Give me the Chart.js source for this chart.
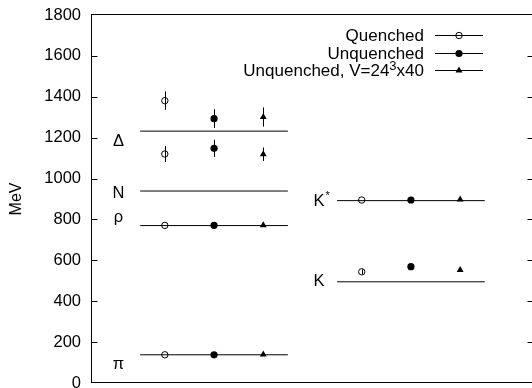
<!DOCTYPE html>
<html>
<head>
<meta charset="utf-8">
<script src="https://cdn.jsdelivr.net/npm/chart.js@4.4.1/dist/chart.umd.min.js"></script>
<style>
html, body { margin: 0; padding: 0; background: #fff; }
canvas { display: block; }
</style>
</head>
<body>
<canvas id="massChart" width="532" height="388"></canvas>
<script>
// hadrons, experimental masses (MeV) and where each block sits on the x axis
const hadrons = ['π', 'ρ', 'N', 'Δ', 'K', 'K*'];
const expMass = [138, 770, 939, 1232, 495, 892];
const block = [0, 0, 0, 0, 1, 1];
const blockStart = [1, 5];
const blockEnd = [4, 8];
const slot = [0.5, 1.5, 2.5];            // x offset of each series inside a block
const labelX = [0.56, 0.56, 0.56, 0.56, 4.63, 4.63];
const labelMeV = [70, 787, 905, 1160, 474, 866];   // label baselines

// lattice results
const quenched = [138, 771, 1120, 1381, 544, 895];
const quenchedErr = [0, 0, 39, 45, 12, 0];
const unquenched = [138, 771, 1148, 1293, 569, 895];
const unquenchedErr = [0, 0, 42, 46, 0, 0];
const unq24 = [139, 772, 1119, 1301, 553, 897];
const unq24Err = [0, 0, 33, 47, 0, 0];

const yTicks = [0, 200, 400, 600, 800, 1000, 1200, 1400, 1600, 1800];

const FONT = '"Liberation Sans", Arial, Helvetica, sans-serif';

const seriesList = [
    { name: 'Quenched', vals: quenched, errs: quenchedErr, style: 'circle', open: true },
    { name: 'Unquenched', vals: unquenched, errs: unquenchedErr, style: 'circle', open: false },
    { name: 'Unquenched, V=24^3x40', vals: unq24, errs: unq24Err, style: 'triangle', open: false }
];

const datasets = [];
hadrons.forEach((h, i) => {
    const b = block[i];
    datasets.push({
        type: 'line',
        data: [{ x: blockStart[b], y: expMass[i] }, { x: blockEnd[b], y: expMass[i] }],
        borderColor: '#000',
        borderWidth: 1,
        pointRadius: 0,
        fill: false
    });
});
seriesList.forEach((s, k) => {
    datasets.push({
        type: 'scatter',
        isSeries: true,
        errs: s.errs,
        data: s.vals.map((v, i) => ({ x: blockStart[block[i]] + slot[k], y: v })),
        pointStyle: s.style,
        pointRadius: s.style === 'triangle' ? 4 : (s.open ? 3.2 : 3.6),
        borderWidth: s.open ? 1 : 0,
        borderColor: '#000',
        backgroundColor: s.open ? 'rgba(0,0,0,0)' : '#000'
    });
});

const errorBars = {
    id: 'errorBars',
    afterDatasetsDraw(chart) {
        const ctx = chart.ctx, ys = chart.scales.y;
        ctx.save();
        ctx.strokeStyle = '#000';
        ctx.lineWidth = 1;
        chart.data.datasets.forEach((ds, di) => {
            if (!ds.isSeries) return;
            const meta = chart.getDatasetMeta(di);
            meta.data.forEach((pt, i) => {
                const e = ds.errs[i];
                if (!e) return;
                const v = ds.data[i].y;
                const x = Math.round(pt.x) + 0.5;
                ctx.beginPath();
                ctx.moveTo(x, ys.getPixelForValue(v + e));
                ctx.lineTo(x, ys.getPixelForValue(v - e));
                ctx.stroke();
            });
        });
        ctx.restore();
    }
};

function marker(ctx, s, x, y) {
    ctx.beginPath();
    if (s.style === 'triangle') {
        const r = 4;
        ctx.moveTo(x, y - r);
        ctx.lineTo(x + r * 0.866, y + r / 2);
        ctx.lineTo(x - r * 0.866, y + r / 2);
        ctx.closePath();
        ctx.fill();
    } else if (s.open) {
        ctx.arc(x, y, 3.2, 0, Math.PI * 2);
        ctx.stroke();
    } else {
        ctx.arc(x, y, 3.6, 0, Math.PI * 2);
        ctx.fill();
    }
}

const frameAndText = {
    id: 'frameAndText',
    afterDraw(chart) {
        const ctx = chart.ctx, a = chart.chartArea;
        const xs = chart.scales.x, ys = chart.scales.y;
        ctx.save();
        ctx.strokeStyle = '#000';
        ctx.fillStyle = '#000';
        ctx.lineWidth = 1;
        // the right edge of the frame sits just past the canvas in the original
        const L = Math.round(a.left) + 0.5, R = Math.round(a.right) + 1.5;
        const T = Math.round(a.top) - 0.5, B = Math.round(a.bottom) - 0.5;
        ctx.strokeRect(L, T, R - L, B - T);
        yTicks.forEach(t => {
            const y = Math.round(ys.getPixelForValue(t)) + 0.5;
            if (t === 0 || t === 1800) return;
            ctx.beginPath();
            ctx.moveTo(L, y); ctx.lineTo(L + 6, y);
            ctx.moveTo(R, y); ctx.lineTo(R - 6, y);
            ctx.stroke();
        });

        // hadron names
        ctx.textBaseline = 'alphabetic';
        hadrons.forEach((h, i) => {
            const x = xs.getPixelForValue(labelX[i]);
            const y = ys.getPixelForValue(labelMeV[i]);
            ctx.font = '16.5px ' + FONT;
            ctx.textAlign = 'center';
            if (h === 'K*') {
                ctx.fillText('K', x, y);
                const w = ctx.measureText('K').width;
                ctx.font = '11px ' + FONT;
                ctx.textAlign = 'left';
                ctx.fillText('*', x + w / 2 + 1, y - 7);
            } else {
                ctx.fillText(h, x, y);
            }
        });

        // legend
        const rows = [35, 52.7, 70];
        const textRight = 424;
        seriesList.forEach((s, k) => {
            const y = rows[k];
            ctx.font = '17px ' + FONT;
            ctx.textAlign = 'right';
            if (s.name.indexOf('^') >= 0) {
                const parts = s.name.split('^');
                const tail = parts[1].slice(1), sup = parts[1].slice(0, 1);
                ctx.fillText(tail, textRight, y + 6);
                const w1 = ctx.measureText(tail).width;
                ctx.font = '13px ' + FONT;
                ctx.fillText(sup, textRight - w1, y);
                const w2 = ctx.measureText(sup).width;
                ctx.font = '17px ' + FONT;
                ctx.fillText(parts[0], textRight - w1 - w2, y + 6);
            } else {
                ctx.fillText(s.name, textRight, y + 6);
            }
            const ly = Math.round(y) + 0.5;
            ctx.beginPath();
            ctx.moveTo(435, ly); ctx.lineTo(483, ly);
            ctx.stroke();
            marker(ctx, s, 459, ly);
        });
        ctx.restore();
    }
};

new Chart(document.getElementById('massChart'), {
    type: 'scatter',
    data: { datasets },
    options: {
        responsive: false,
        animation: false,
        devicePixelRatio: 1,
        layout: { autoPadding: false, padding: { top: 15, right: 0, bottom: 5, left: 0 } },
        plugins: { legend: { display: false }, tooltip: { enabled: false } },
        scales: {
            x: { type: 'linear', min: 0, max: 8.96, display: false },
            y: {
                min: 0, max: 1800,
                afterBuildTicks: s => { s.ticks = yTicks.map(v => ({ value: v })); },
                ticks: { color: '#000', font: { size: 16.5, family: FONT }, padding: 10, callback: v => String(v) },
                grid: { display: false, drawTicks: false },
                border: { display: false },
                title: { display: true, text: 'MeV', color: '#000', font: { size: 16, family: FONT }, padding: { top: 7, bottom: 0 } },
                afterFit: s => { s.width = 91; s.paddingTop = 0; s.paddingBottom = 0; }
            }
        }
    },
    plugins: [errorBars, frameAndText]
});
</script>
</body>
</html>
